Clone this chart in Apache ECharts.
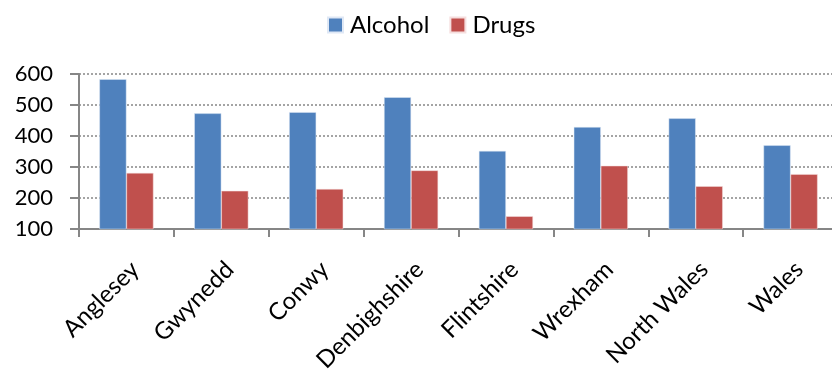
<!DOCTYPE html>
<html>
<head>
<meta charset="utf-8">
<script src="https://cdn.jsdelivr.net/npm/echarts@6/dist/echarts.min.js"></script>
<style>html,body{margin:0;padding:0;background:#fff}#c{width:832px;height:370px}</style>
</head>
<body>
<div id="c"></div>
<script>
const categories = ['Anglesey','Gwynedd','Conwy','Denbighshire','Flintshire','Wrexham','North Wales','Wales'];
const alcohol = [583, 473, 477, 525, 352, 429, 457, 370];
const drugs = [281, 223, 229, 289, 141, 304, 238, 277];
const yTicks = {min: 100, max: 600, interval: 100};

const FONT = 'Lato';
const chart = echarts.init(document.getElementById('c'));
chart.setOption({
  animation: false,
  textStyle: {fontFamily: FONT},
  legend: {
    top: 8, left: 322, itemWidth: 15, itemHeight: 15, itemGap: 20,
    icon: 'rect',
    textStyle: {fontFamily: FONT, fontSize: 24, color: '#000', padding: [0, 0, 0, 2]},
    data: ['Alcohol', 'Drugs']
  },
  grid: {left: 79, right: -6, top: 74, bottom: 141, containLabel: false, outerBoundsMode: 'none'},
  xAxis: {
    type: 'category', data: categories,
    axisLine: {lineStyle: {color: '#868686', width: 2}},
    axisTick: {show: true, length: 8, lineStyle: {color: '#868686', width: 2}},
    axisLabel: {rotate: 45, fontSize: 24, color: '#000', margin: 28, fontFamily: FONT, interval: 0, verticalAlign: 'top'}
  },
  yAxis: {
    type: 'value', min: yTicks.min, max: yTicks.max, interval: yTicks.interval,
    axisLine: {show: true, lineStyle: {color: '#868686', width: 2}},
    axisTick: {show: true, length: 9, lineStyle: {color: '#868686', width: 2}},
    axisLabel: {fontSize: 22, color: '#000', margin: 26, fontFamily: FONT},
    splitLine: {lineStyle: {color: '#868686', type: [2, 2], width: 1.5}}
  },
  series: [
    {name: 'Alcohol', type: 'bar', data: alcohol, barGap: '0%', barCategoryGap: '43%',
     itemStyle: {color: '#4F81BD', borderColor: '#dfe8f5', borderWidth: 0.5}},
    {name: 'Drugs', type: 'bar', data: drugs,
     itemStyle: {color: '#C0504D', borderColor: '#f5dede', borderWidth: 0.5}}
  ]
});
</script>
</body>
</html>
